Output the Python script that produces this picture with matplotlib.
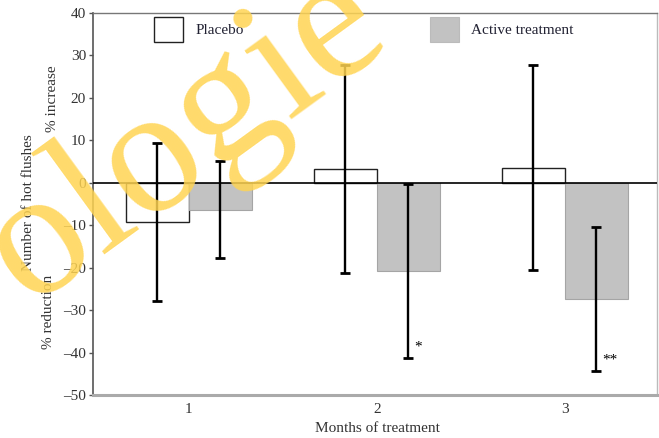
import numpy as np
import matplotlib.pyplot as plt
from matplotlib.patches import Patch

# months of treatment, mean % change in number of hot flushes, +/- error
months = [1, 2, 3]
placebo = [-9.2, 3.3, 3.6]
placebo_err = [18.6, 24.5, 24.2]
active = [-6.3, -20.7, -27.3]
active_err = [11.5, 20.5, 17.0]
signif = ["", "*", "**"]

y_ticks = [-50, -40, -30, -20, -10, 0, 10, 20, 30, 40]
y_labels = ["\u201350", "\u201340", "\u201330", "\u201320", "\u201310", "0", "10", "20", "30", "40"]

plt.rcParams['font.family'] = ['Liberation Serif', 'DejaVu Serif']

fig = plt.figure(figsize=(6.59, 4.38), dpi=100)
ax = fig.add_axes([0.1411, 0.0982, 0.856, 0.872])

x = np.array(months, dtype=float)
w = 0.335
txt_col = '#333333'

ax.bar(x - w / 2, placebo, w, color='white', edgecolor='#222222', linewidth=1.0, zorder=2)
ax.bar(x + w / 2, active, w, color='#c2c2c2', edgecolor='#a5a5a5', linewidth=0.8, zorder=2)
ax.errorbar(x - w / 2, placebo, yerr=placebo_err, fmt='none', ecolor='black',
            elinewidth=1.7, capsize=3.5, capthick=2, zorder=4)
ax.errorbar(x + w / 2, active, yerr=active_err, fmt='none', ecolor='black',
            elinewidth=1.7, capsize=3.5, capthick=2, zorder=4)
ax.axhline(0, color='black', linewidth=1.2, zorder=3)

for xi, v, e, s in zip(x, active, active_err, signif):
    if s:
        ax.text(xi + w / 2 + 0.03, v - e + 1.0, s, fontsize=11, color='black',
                ha='left', va='bottom', zorder=5)

ax.set_xlim(0.49, 3.49)
ax.set_ylim(-50, 40)
ax.set_xticks(x)
ax.set_xticklabels([str(m) for m in months], fontsize=11, color=txt_col)
ax.set_yticks(y_ticks)
ax.set_yticklabels(y_labels, fontsize=11, color=txt_col)
ax.tick_params(axis='x', length=0, pad=6)
ax.tick_params(axis='y', length=3, width=1, color='#555555', pad=2)

ax.spines['left'].set_color('#555555')
ax.spines['left'].set_linewidth(1.2)
ax.spines['top'].set_color('#777777')
ax.spines['top'].set_linewidth(1.0)
ax.spines['right'].set_color('#bbbbbb')
ax.spines['right'].set_linewidth(1.0)
ax.spines['bottom'].set_color('#aaaaaa')
ax.spines['bottom'].set_linewidth(2.2)

handles = [Patch(facecolor='white', edgecolor='#222222', linewidth=1.0, label='Placebo'),
           Patch(facecolor='#c2c2c2', edgecolor='#bbbbbb', linewidth=0.8, label='Active treatment')]
ax.legend(handles=handles, loc='upper left', bbox_to_anchor=(0.108, 0.989), ncol=2,
          frameon=False, fontsize=11, handlelength=1.9, handleheight=2.1,
          handletextpad=0.8, columnspacing=12.2, borderpad=0, borderaxespad=0,
          labelcolor='#222233')

fig.text(0.0425, 0.537, 'Number of hot flushes', rotation=90, ha='center', va='center',
         fontsize=11, color=txt_col)
fig.text(0.079, 0.774, '% increase', rotation=90, ha='center', va='center',
         fontsize=11, color=txt_col)
fig.text(0.073, 0.288, '% reduction', rotation=90, ha='center', va='center',
         fontsize=11, color=txt_col)
fig.text(0.573, 0.021, 'Months of treatment', ha='center', va='center',
         fontsize=11, color=txt_col)

# watermark
fig.text(0.042, 0.305, 'ologie', rotation=36, rotation_mode='anchor', ha='left',
         va='baseline', fontsize=130, color='#ffd452', alpha=0.85, zorder=10)

fig.savefig('out.png', dpi=100)
